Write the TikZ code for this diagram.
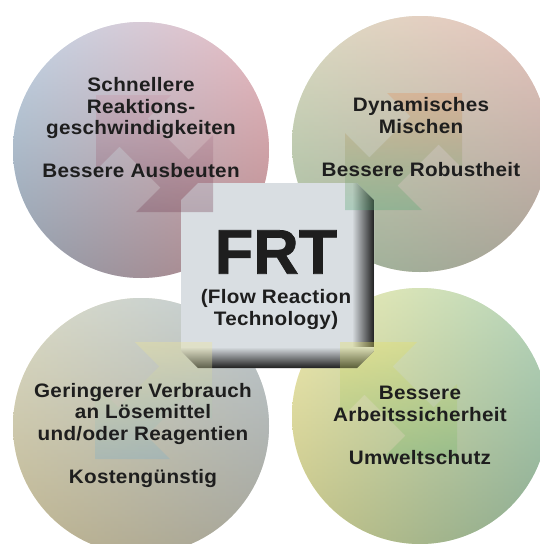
\documentclass[tikz,border=0pt]{standalone}
\usepackage{fontspec}
\setmainfont{Liberation Sans}
\newfontfamily\frtfont{Liberation Sans}[FakeStretch=1.06, LetterSpace=1.5]
\newfontfamily\frtheavy{Liberation Sans}[FakeBold=1.2]
\usetikzlibrary{positioning}

\definecolor{textgrey}{HTML}{1E1E1E}
\definecolor{boxfill}{HTML}{D9DEE2}

\tikzset{
  benefit/.style={font=\frtfont\bfseries\fontsize{19.5}{21.5}\selectfont,
    align=center, text=textgrey, inner sep=0pt},
  dblarrow/.pic={
    \shade[opacity=.35, #1]
      (0,0) -- (-77,0) -- (0,-77) -- cycle
      (-117,-117) -- (-42,-117) -- (-117,-42) -- cycle
      (-24.4,-52.6) -- (-52.6,-24.4) -- (-93.6,-65.4) -- (-65.4,-93.6) -- cycle;
  }
}

\begin{document}
\begin{tikzpicture}[x=1pt, y=-1pt]

	\useasboundingbox (0,0) rectangle (540,544);
	\fill [white] (0,0) rectangle (540,544);

	% four circles
	\shade [left color={rgb,255:red,150;green,190;blue,218}, right color={rgb,255:red,222;green,140;blue,148}] (141,150) circle (128);
	\shade [top color={rgb,255:red,246;green,240;blue,246}, bottom color={rgb,255:red,140;green,126;blue,124}, opacity=.5] (141,150) circle (128);

	\shade [left color={rgb,255:red,192;green,214;blue,164}, right color={rgb,255:red,210;green,160;blue,150}] (420,144) circle (128);
	\shade [top color={rgb,255:red,250;green,226;blue,224}, bottom color={rgb,255:red,132;green,162;blue,150}, opacity=.55] (420,144) circle (128);

	\shade [left color={rgb,255:red,220;green,206;blue,148}, right color={rgb,255:red,160;green,168;blue,168}] (141,426) circle (128);
	\shade [top color={rgb,255:red,218;green,232;blue,246}, bottom color={rgb,255:red,168;green,160;blue,140}, opacity=.55] (141,426) circle (128);

	\shade [left color={rgb,255:red,244;green,232;blue,132}, right color={rgb,255:red,126;green,184;blue,152}] (420,416) circle (128);
	\shade [top color={rgb,255:red,240;green,244;blue,226}, bottom color={rgb,255:red,150;green,158;blue,138}, opacity=.5] (420,416) circle (128);

	% centre box with shadow
	\fill [boxfill] (198,183) -- (357,183) -- (374,200) -- (374,351) -- (357,368)
		-- (198,368) -- (181,351) -- (181,200) -- cycle;
	\begin{scope}
		\clip (198,183) -- (357,183) -- (374,200) -- (374,351) -- (357,368)
			-- (198,368) -- (181,351) -- (181,200) -- cycle;
		\shade [left color=boxfill, right color=black!88] (352,183) rectangle (374,368);
		\shade [top color=boxfill, bottom color=black!88] (181,347) rectangle (374,368);
	\end{scope}

	% arrows
	\pic at (213,212) {dblarrow={top color={rgb,255:red,200;green,150;blue,168}, bottom color={rgb,255:red,120;green,70;blue,90}}};
	\pic [xscale=-1] at (345,210) {dblarrow={top color={rgb,255:red,224;green,150;blue,100}, bottom color={rgb,255:red,90;green,170;blue,120}}};
	\pic [yscale=-1] at (212,342) {dblarrow={top color={rgb,255:red,240;green,230;blue,150}, bottom color={rgb,255:red,130;green,176;blue,200}}};
	\pic [xscale=-1, yscale=-1] at (340,342) {dblarrow={top color={rgb,255:red,230;green,224;blue,100}, bottom color={rgb,255:red,110;green,180;blue,110}}};

	% texts
	\node [benefit] (speed) at (141,128) {Schnellere\\Reaktions-\\geschwindigkeiten\\[21.5pt]Bessere Ausbeuten};
	\node [benefit] (mixing) at (421,137) {Dynamisches\\Mischen\\[21.5pt]Bessere Robustheit};
	\node [benefit] (savings) at (143,435) {Geringerer Verbrauch\\an Lösemittel\\und/oder Reagentien\\[21.5pt]Kostengünstig};
	\node [benefit] (safety) at (420,425.5) {Bessere\\Arbeitssicherheit\\[21.5pt]Umweltschutz};

	\node [benefit, font=\frtheavy\bfseries\fontsize{63}{63}\selectfont] (frt) at (276,252) {FRT};
	\node [benefit] (subtitle) at (276,309.5) {(Flow Reaction\\Technology)};
\end{tikzpicture}
\end{document}
